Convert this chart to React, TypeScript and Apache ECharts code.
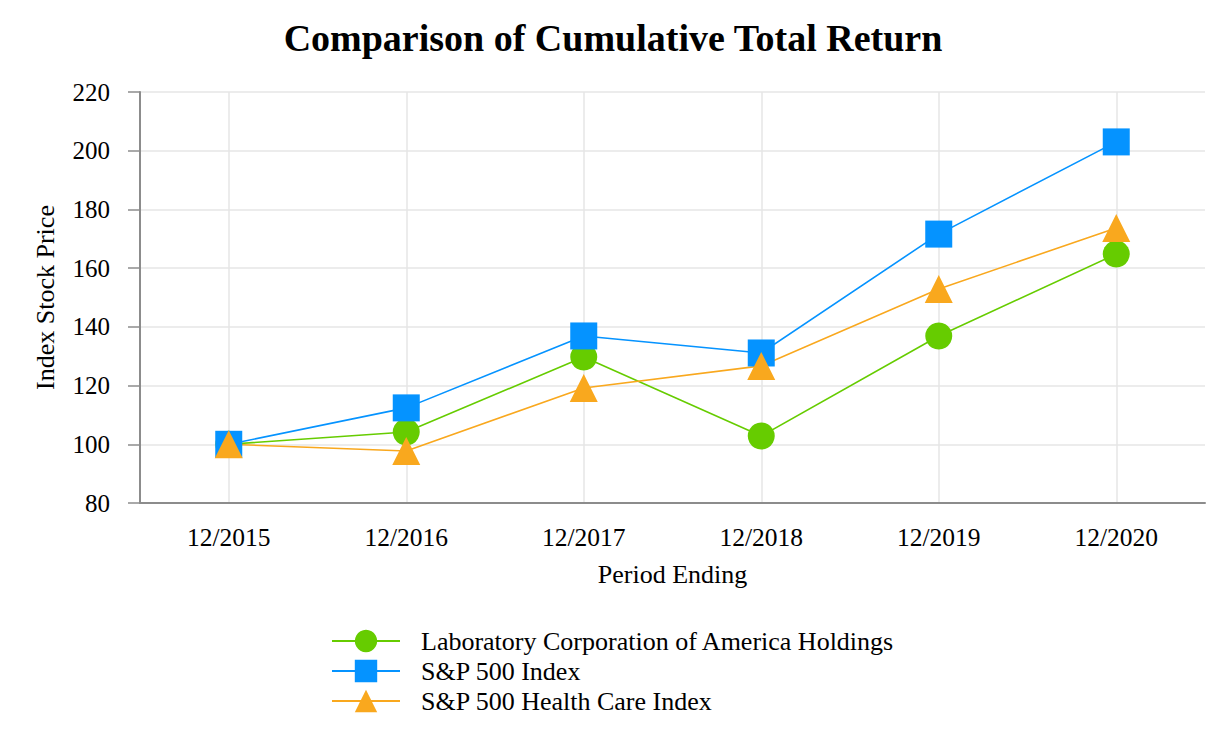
import React, { useEffect, useRef } from "react";
import * as echarts from "echarts";

const categories = ["12/2015", "12/2016", "12/2017", "12/2018", "12/2019", "12/2020"];
const labCorp = [100, 104.2, 129.7, 102.8, 136.9, 164.8];
const sp500 = [100, 112.4, 136.9, 131.1, 171.6, 203.0];
const spHealthCare = [100, 97.7, 119.2, 126.7, 152.9, 173.7];
const seriesNames = [
  "Laboratory Corporation of America Holdings",
  "S&P 500 Index",
  "S&P 500 Health Care Index",
];

const FONT = "'Liberation Serif', 'Times New Roman', serif";

export default function App() {
  const ref = useRef<HTMLDivElement>(null);
  useEffect(() => {
    if (!ref.current) return;
    const chart = echarts.init(ref.current, undefined, { renderer: "svg" });
    const mk = (name: string, data: number[], color: string, symbol: string, size: number) => ({
      name,
      type: "line",
      data,
      symbol,
      symbolSize: size,
      showAllSymbol: true,
      z: 3,
      lineStyle: { color, width: 1.6 },
      itemStyle: { color },
    });
    chart.setOption({
      animation: false,
      textStyle: { fontFamily: FONT },
      title: {
        text: "Comparison of Cumulative Total Return",
        left: "center",
        top: 14,
        textStyle: { fontFamily: FONT, fontSize: 38, fontWeight: "bold", color: "#000" },
      },
      legend: {
        orient: "vertical",
        left: 326,
        top: 623,
        itemWidth: 68,
        itemHeight: 28,
        itemGap: 4,
        data: seriesNames,
        textStyle: { fontFamily: FONT, fontSize: 26, color: "#000", padding: [0, 0, 0, 16] },
      },
      grid: { left: 140, right: 21, top: 92, bottom: 241, containLabel: false },
      xAxis: {
        type: "category",
        data: categories,
        boundaryGap: true,
        name: "Period Ending",
        nameLocation: "middle",
        nameGap: 58,
        nameTextStyle: { fontFamily: FONT, fontSize: 26, color: "#000", verticalAlign: "top" },
        axisLine: { lineStyle: { color: "#8c8c8c", width: 2 } },
        axisTick: { alignWithLabel: true, length: 10, lineStyle: { color: "#d9d9d9", width: 1.5 } },
        axisLabel: { fontFamily: FONT, fontSize: 25.5, color: "#000", margin: 21 },
        splitLine: { show: false },
        z: 4,
      },
      yAxis: {
        type: "value",
        min: 80,
        max: 220,
        interval: 20,
        name: "Index Stock Price",
        nameLocation: "middle",
        nameGap: 82,
        nameTextStyle: { fontFamily: FONT, fontSize: 26, color: "#000" },
        axisLine: { show: true, lineStyle: { color: "#8c8c8c", width: 2 } },
        axisTick: { show: true, length: 12, lineStyle: { color: "#8c8c8c", width: 1.5 } },
        axisLabel: { fontFamily: FONT, fontSize: 25, color: "#000", margin: 30 },
        splitLine: { show: true, lineStyle: { color: "#e6e6e6", width: 1.5 } },
      },
      series: [
        {
          name: "_grid",
          type: "line",
          data: labCorp,
          symbol: "none",
          silent: true,
          z: 0,
          lineStyle: { opacity: 0 },
          markLine: {
            silent: true,
            z: 0,
            symbol: ["none", "none"],
            label: { show: false },
            lineStyle: { color: "#e6e6e6", width: 1.5, type: "solid" },
            data: categories.map((c) => ({ xAxis: c })),
          },
        },
        mk(seriesNames[0], labCorp, "#66cc00", "circle", 27),
        mk(seriesNames[1], sp500, "#0593ff", "rect", 27),
        mk(seriesNames[2], spHealthCare, "#f9a81e", "triangle", 28),
      ],
    });
    return () => chart.dispose();
  }, []);
  return (
    <div
      ref={ref}
      style={{ position: "fixed", left: 0, top: 0, width: 1226, height: 744, background: "#fff" }}
    />
  );
}
